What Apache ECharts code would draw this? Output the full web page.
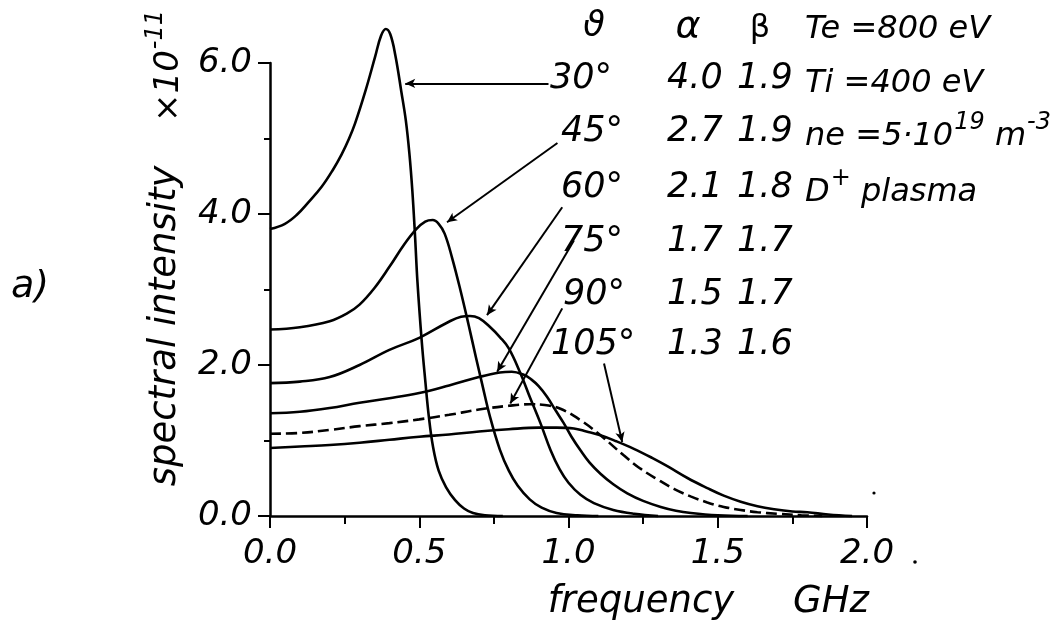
<!DOCTYPE html>
<html>
<head>
<meta charset="utf-8">
<script src="https://cdn.jsdelivr.net/npm/echarts@6/dist/echarts.min.js"></script>
<style>
  html, body { margin: 0; padding: 0; background: #fff; }
  #chart { width: 1061px; height: 625px; }
</style>
</head>
<body>
<div id="chart"></div>
<script>
// spectral intensity (x10^-11) vs frequency (GHz)
const theta30 = [[0,3.80],[0.05,3.87],[0.09,3.99],[0.13,4.16],[0.173,4.36],[0.21,4.58],[0.24,4.79],[0.265,5.00],[0.285,5.20],[0.319,5.62],[0.352,6.08],[0.372,6.36],[0.388,6.45],[0.403,6.38],[0.42,6.10],[0.44,5.62],[0.455,5.24],[0.467,4.80],[0.477,4.30],[0.486,3.70],[0.494,3.10],[0.508,2.33],[0.52,1.80],[0.532,1.32],[0.546,0.92],[0.565,0.60],[0.59,0.38],[0.62,0.21],[0.65,0.10],[0.68,0.04],[0.72,0.01],[0.78,0]];
const theta45 = [[0,2.47],[0.1,2.50],[0.2,2.58],[0.257,2.68],[0.30,2.80],[0.35,3.02],[0.40,3.30],[0.45,3.60],[0.49,3.80],[0.52,3.90],[0.545,3.92],[0.565,3.87],[0.585,3.74],[0.61,3.42],[0.638,2.99],[0.666,2.52],[0.69,2.10],[0.71,1.76],[0.738,1.30],[0.77,0.88],[0.80,0.60],[0.83,0.40],[0.87,0.22],[0.91,0.11],[0.96,0.04],[1.03,0.01],[1.1,0]];
const theta60 = [[0,1.76],[0.1,1.78],[0.2,1.84],[0.3,2.0],[0.4,2.2],[0.5,2.36],[0.593,2.56],[0.64,2.64],[0.67,2.65],[0.70,2.62],[0.738,2.50],[0.77,2.37],[0.80,2.22],[0.839,1.89],[0.87,1.58],[0.906,1.23],[0.94,0.87],[0.97,0.62],[1.0,0.44],[1.04,0.28],[1.085,0.17],[1.15,0.08],[1.22,0.03],[1.3,0]];
const theta75 = [[0,1.36],[0.1,1.38],[0.2,1.43],[0.3,1.50],[0.4,1.56],[0.5,1.63],[0.6,1.73],[0.7,1.84],[0.77,1.90],[0.81,1.91],[0.85,1.87],[0.875,1.81],[0.90,1.72],[0.928,1.58],[0.955,1.41],[0.984,1.23],[1.01,1.05],[1.04,0.87],[1.07,0.71],[1.107,0.56],[1.15,0.42],[1.197,0.30],[1.25,0.20],[1.309,0.12],[1.36,0.07],[1.41,0.04],[1.5,0.01],[1.6,0]];
const theta90 = [[0,1.09],[0.1,1.10],[0.2,1.14],[0.3,1.19],[0.4,1.23],[0.5,1.28],[0.6,1.34],[0.7,1.41],[0.8,1.46],[0.87,1.48],[0.92,1.47],[0.973,1.42],[1.04,1.27],[1.107,1.07],[1.186,0.80],[1.24,0.63],[1.30,0.48],[1.353,0.36],[1.409,0.26],[1.465,0.18],[1.52,0.12],[1.577,0.08],[1.633,0.05],[1.70,0.03],[1.78,0.01],[1.85,0]];
const theta105 = [[0,0.90],[0.1,0.92],[0.2,0.94],[0.3,0.97],[0.4,1.01],[0.5,1.05],[0.6,1.08],[0.7,1.12],[0.8,1.15],[0.9,1.17],[0.96,1.17],[1.018,1.16],[1.06,1.12],[1.107,1.07],[1.16,0.99],[1.219,0.89],[1.28,0.77],[1.331,0.66],[1.40,0.50],[1.465,0.37],[1.52,0.27],[1.577,0.19],[1.633,0.13],[1.689,0.09],[1.75,0.06],[1.80,0.05],[1.87,0.02],[1.95,0]];

// leader lines: [label end, curve end] in data units
const leaders = [
  [[0.933,5.73],[0.453,5.73]],
  [[0.963,4.94],[0.593,3.89]],
  [[0.979,4.09],[0.727,2.66]],
  [[1.018,3.65],[0.761,1.91]],
  [[0.979,2.75],[0.805,1.49]],
  [[1.119,2.02],[1.18,0.98]]
];

const angleLabels = ['30°','45°','60°','75°','90°','105°'];
const alphaVals = ['4.0','2.7','2.1','1.7','1.5','1.3'];
const betaVals = ['1.9','1.9','1.8','1.7','1.7','1.6'];
const plasmaParams = ['Te =800 eV', 'Ti =400 eV', 'ne =5·10{s|19} m{s|-3}', 'D{s|+} plasma'];

const FF = '"DejaVu Sans", sans-serif';
const f = (size) => `italic ${size}px ${FF}`;

const rowY = [79, 132, 188, 242, 295, 345];
const angleX = [550, 561, 561, 561, 563, 551];
const paramY = [25, 79, 132, 188];

const curves = [
  { name: '30', data: theta30, dash: 'solid' },
  { name: '45', data: theta45, dash: 'solid' },
  { name: '60', data: theta60, dash: 'solid' },
  { name: '75', data: theta75, dash: 'solid' },
  { name: '90', data: theta90, dash: [11, 5] },
  { name: '105', data: theta105, dash: 'solid' }
];

const supRich = (size) => ({
  n: { font: f(size), lineHeight: 42, verticalAlign: 'bottom' },
  s: { font: f(24), lineHeight: 42, verticalAlign: 'top', padding: [0, 0, 0, 1] }
});
const toRich = (t) => '{n|' + t.replace(/\{s\|([^}]*)\}/g, '}{s|$1}{n|') + '}';

const graphics = [];
// table header
graphics.push({ type: 'text', x: 594, y: 27, style: { text: 'ϑ', font: f(35), fill: '#000', align: 'center', verticalAlign: 'middle' } });
graphics.push({ type: 'text', x: 688, y: 27, style: { text: 'α', font: f(38), fill: '#000', align: 'center', verticalAlign: 'middle' } });
graphics.push({ type: 'text', x: 760, y: 29, style: { text: 'β', font: `32px ${FF}`, fill: '#000', align: 'center', verticalAlign: 'middle' } });
angleLabels.forEach((t, i) => {
  graphics.push({ type: 'text', x: angleX[i], y: rowY[i], style: { text: t, font: f(35), fill: '#000', align: 'left', verticalAlign: 'middle' } });
  graphics.push({ type: 'text', x: 667, y: rowY[i], style: { text: alphaVals[i], font: f(35), fill: '#000', align: 'left', verticalAlign: 'middle' } });
  graphics.push({ type: 'text', x: 737, y: rowY[i], style: { text: betaVals[i], font: f(35), fill: '#000', align: 'left', verticalAlign: 'middle' } });
});
plasmaParams.forEach((t, i) => {
  graphics.push({ type: 'text', x: 805, y: paramY[i], style: { text: toRich(t), rich: supRich(32), fill: '#000', align: 'left', verticalAlign: 'middle' } });
});
// axis titles
graphics.push({ type: 'text', x: 165, y: 326, rotation: Math.PI / 2, style: { text: 'spectral intensity', font: f(37), fill: '#000', align: 'center', verticalAlign: 'middle' } });
graphics.push({ type: 'text', x: 165, y: 66, rotation: Math.PI / 2, style: { text: '{n|×10}{s|-11}', rich: supRich(34), fill: '#000', align: 'center', verticalAlign: 'middle' } });
graphics.push({ type: 'text', x: 641, y: 602, style: { text: 'frequency', font: f(37), fill: '#000', align: 'center', verticalAlign: 'middle' } });
graphics.push({ type: 'text', x: 831, y: 602, style: { text: 'GHz', font: f(37), fill: '#000', align: 'center', verticalAlign: 'middle' } });
graphics.push({ type: 'text', x: 30, y: 287, style: { text: 'a)', font: f(38), fill: '#000', align: 'center', verticalAlign: 'middle' } });
// scan specks
graphics.push({ type: 'circle', shape: { cx: 874, cy: 493, r: 1.6 }, style: { fill: '#000' } });
graphics.push({ type: 'circle', shape: { cx: 915, cy: 562, r: 1.8 }, style: { fill: '#000' } });

const chart = echarts.init(document.getElementById('chart'), null, { renderer: 'canvas' });

const axisCommon = {
  type: 'value',
  axisLine: { show: true, onZero: false, lineStyle: { color: '#000', width: 2.5 } },
  axisTick: { show: true, inside: false, length: 12, lineStyle: { color: '#000', width: 2 } },
  minorTick: { show: true, splitNumber: 2, lineStyle: { color: '#000', width: 2 } },
  splitLine: { show: false },
  minorSplitLine: { show: false },
  axisLabel: { color: '#000', fontFamily: FF, fontStyle: 'italic', fontSize: 34, formatter: (v) => v.toFixed(1) }
};

chart.setOption({
  backgroundColor: '#fff',
  animation: false,
  grid: { left: 270, right: 194, top: 63, bottom: 109, containLabel: false },
  xAxis: Object.assign({}, axisCommon, {
    min: 0, max: 2, interval: 0.5,
    minorTick: Object.assign({}, axisCommon.minorTick, { length: 8 }),
    axisLabel: Object.assign({}, axisCommon.axisLabel, { margin: 21, showMaxLabel: true, showMinLabel: true })
  }),
  yAxis: Object.assign({}, axisCommon, {
    min: 0, max: 6, interval: 2,
    minorTick: Object.assign({}, axisCommon.minorTick, { length: 6 }),
    axisLabel: Object.assign({}, axisCommon.axisLabel, { margin: 18 })
  }),
  series: curves.map((c) => ({
    name: c.name,
    type: 'line',
    data: c.data,
    showSymbol: false,
    symbol: 'none',
    smooth: 0.4,
    clip: false,
    lineStyle: { color: '#000', width: 2.6, type: c.dash },
    z: 3
  })).concat([{
    type: 'line',
    data: [],
    markLine: {
      silent: true,
      symbol: ['none', 'arrow'],
      symbolSize: [7, 10],
      label: { show: false },
      lineStyle: { color: '#000', width: 2, type: 'solid' },
      data: leaders.map((l) => [{ coord: l[0] }, { coord: l[1] }])
    }
  }]),
  graphic: graphics
});
</script>
</body>
</html>
